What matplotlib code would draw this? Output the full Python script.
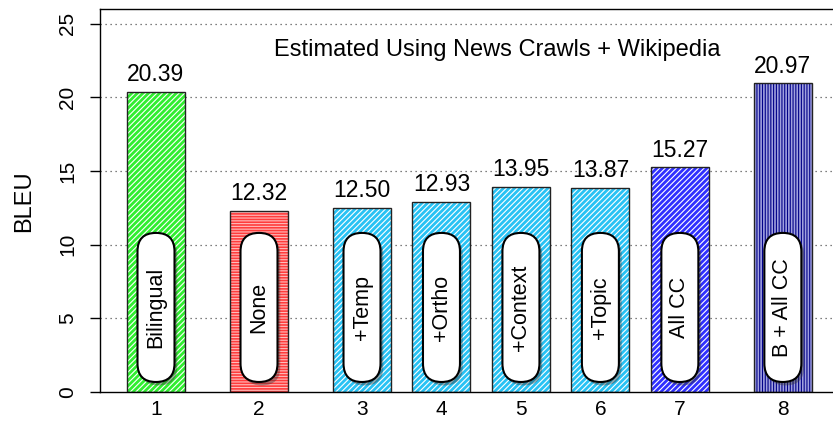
import numpy as np
import matplotlib
matplotlib.use("Agg")
import matplotlib.pyplot as plt
from matplotlib.patches import FancyBboxPatch
import matplotlib.patheffects as pe

plt.rcParams['font.family'] = ['Liberation Sans', 'DejaVu Sans']
plt.rcParams['hatch.linewidth'] = 0.8

# ---- data ----
tick_labels = ["1", "2", "3", "4", "5", "6", "7", "8"]
bar_names = ["Bilingual", "None", "+Temp", "+Ortho", "+Context", "+Topic", "All CC", "B + All CC"]
bleu = [20.39, 12.32, 12.50, 12.93, 13.95, 13.87, 15.27, 20.97]
title_text = "Estimated Using News Crawls + Wikipedia"

# ---- styles ----
face_colors = ["#30ee30", "#ff3c3c", "#28c2f4", "#28c2f4", "#28c2f4", "#28c2f4", "#3030ff", "#a0a0de"]
hatch_colors = ["white", "#ffbcbc", "white", "white", "white", "white", "white", "#000088"]
hatches = ["//////", "------", "//////", "//////", "//////", "//////", "//////", "||||||"]
gaps = [0.776, 0.776, 0.37, 0.37, 0.37, 0.37, 0.776]  # gap before each bar after the first (in bar widths)

W, H = 833, 422
fig = plt.figure(figsize=(W / 100, H / 100), dpi=100)
ax_left, ax_right, ax_bottom, ax_top = 100, 833, 392, 9
ax = fig.add_axes([ax_left / W, (H - ax_bottom) / H, (ax_right - ax_left) / W, (ax_bottom - ax_top) / H])

bw = 1.0
pos = np.concatenate([[0.0], np.cumsum(np.array(gaps) + bw)])

xmin = -56 / 58.0
xmax = xmin + (ax_right - ax_left) / 58.0
ax.set_xlim(xmin, xmax)
ax.set_ylim(0, 26)

# grid
for yv in [5, 10, 15, 20, 25]:
    ax.axhline(yv, color="#555555", lw=0.9, ls=(0, (1, 3)), zorder=0)

# bars: hatched fill, then outline
ax.bar(pos, bleu, width=bw, color=face_colors, edgecolor=hatch_colors, hatch=hatches, linewidth=0, zorder=2)
ax.bar(pos, bleu, width=bw, facecolor="none", edgecolor="#222222", linewidth=1.0, zorder=3)

# value labels
for x, v in zip(pos, bleu):
    ax.annotate(f"{v:.2f}", (x, v), xytext=(0, 4), textcoords="offset points",
                ha="center", va="bottom", fontsize=16.5, zorder=5)

# pill labels
px_per_x = (ax_right - ax_left) / (xmax - xmin)
px_per_y = (ax_bottom - ax_top) / 26.0
pill_w = 37 / px_per_x
pill_y0, pill_y1 = 0.68, 10.8
rad = pill_w / 2
aspect = px_per_x / px_per_y
for x, name in zip(pos, bar_names):
    p = FancyBboxPatch((x - pill_w / 2, pill_y0), pill_w, pill_y1 - pill_y0,
                       boxstyle=f"round,pad=0,rounding_size={rad}", mutation_aspect=aspect,
                       facecolor="white", edgecolor="black", linewidth=1.5, zorder=4,
                       path_effects=[pe.SimplePatchShadow(offset=(2, -2.5), shadow_rgbFace="#333333", alpha=0.4),
                                     pe.Normal()])
    ax.add_patch(p)
    ax.text(x, (pill_y0 + pill_y1) / 2, name, rotation=90, ha="center", va="center",
            fontsize=15.5, zorder=6)

# title inside
ax.text((497 - ax_left) / (ax_right - ax_left), (ax_bottom - 50) / (ax_bottom - ax_top), title_text,
        transform=ax.transAxes, ha="center", va="center", fontsize=17)

# axes styling
ax.set_xticks(pos)
ax.set_xticklabels(tick_labels, fontsize=15)
ax.tick_params(axis="x", length=0, pad=6)
ax.set_yticks([0, 5, 10, 15, 20, 25])
ax.set_yticklabels(["0", "5", "10", "15", "20", "25"], rotation=90, va="center", fontsize=15)
ax.tick_params(axis="y", length=7.5, width=1.0, pad=9)
ax.spines["right"].set_visible(False)
for s in ["left", "top", "bottom"]:
    ax.spines[s].set_linewidth(1.0)

fig.text(24 / W, (H - 201) / H, "BLEU", rotation=90, ha="center", va="center", fontsize=17)

fig.savefig("out.png", dpi=100)
